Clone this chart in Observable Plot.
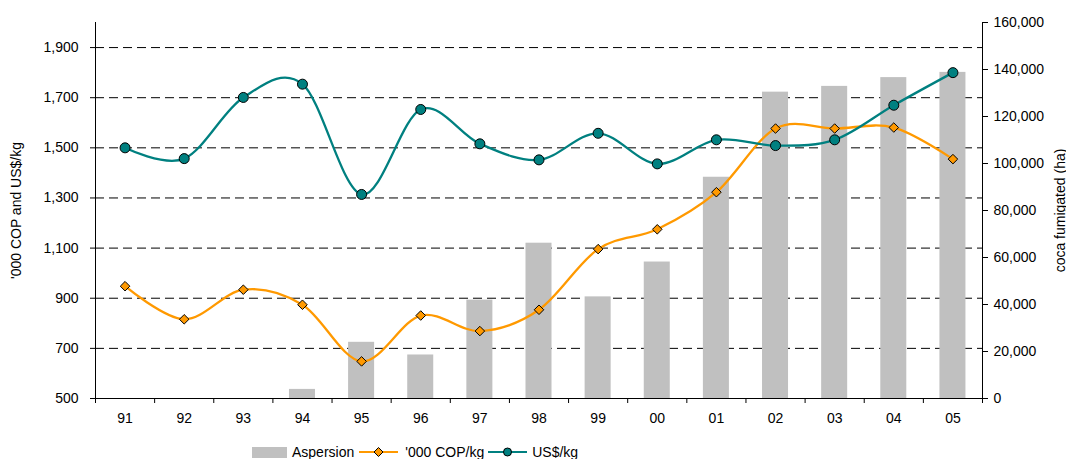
<!DOCTYPE html>
<html><head><meta charset="utf-8">
<script src="https://cdn.jsdelivr.net/npm/d3@7"></script>
<script src="https://cdn.jsdelivr.net/npm/@observablehq/plot@0.6"></script>
<style>
body{margin:0;background:#fff;font-family:"Liberation Sans",Arial,sans-serif;}
#wrap{position:relative;width:1066px;height:459px;overflow:hidden;}
#legend{position:absolute;left:252px;top:443px;height:18px;display:flex;align-items:center;font-size:14px;color:#000;white-space:nowrap;}
</style></head><body><div id="wrap"></div>
<script>
const years = ["91","92","93","94","95","96","97","98","99","00","01","02","03","04","05"];
const aspersion = [null,null,null,3871,23915,18519,41861,66083,43246,58074,94153,130364,132817,136552,138775];
const copPerKg = [948,816,934,874,648,831,769,854,1096,1175,1323,1577,1577,1581,1455];
const usdPerKg = [1500,1457,1701,1754,1314,1653,1516,1452,1558,1436,1532,1509,1532,1670,1800];
const leftTicks = [500,700,900,1100,1300,1500,1700,1900];
const rightTicks = [0,20000,40000,60000,80000,100000,120000,140000,160000];
const seriesNames = ["Aspersion","'000 COP/kg","US$/kg"];
const leftLabel = "'000 COP and US$/kg";
const rightLabel = "coca fumigated (ha)";

const leftDomain = [500, 2000];
const rightMax = 160000;
const toLeft = v => leftDomain[0] + v / rightMax * (leftDomain[1] - leftDomain[0]);
const fromLeft = y => (y - leftDomain[0]) / (leftDomain[1] - leftDomain[0]) * rightMax;

const rows = years.map((year, i) => ({year, asp: aspersion[i], cop: copPerKg[i], usd: usdPerKg[i]}));
const W = 1066, H = 434, mL = 95, mR = 84, mT = 22, mB = 36;
const step = (W - mL - mR) / years.length;
const fmt = d3.format(",");
const COLORS = {bar: "#c0c0c0", cop: "#ff9900", usd: "#008080"};

const chart = Plot.plot({
  width: W, height: H,
  marginLeft: mL, marginRight: mR, marginTop: mT, marginBottom: mB,
  style: {fontFamily: '"Liberation Sans", Arial, sans-serif', fontSize: "14px", color: "#000", background: "#fff"},
  x: {type: "band", domain: years, paddingInner: 0.56, paddingOuter: 0.28, align: 0.5, round: false},
  y: {domain: leftDomain},
  marks: [
    Plot.gridY(leftTicks.filter(d => d > leftDomain[0]), {stroke: "#000", strokeOpacity: 1, strokeDasharray: "9,5"}),
    Plot.barY(rows.filter(d => d.asp != null), {x: "year", y1: leftDomain[0], y2: d => toLeft(d.asp), fill: COLORS.bar}),
    Plot.frame({anchor: "left"}),
    Plot.frame({anchor: "right"}),
    Plot.frame({anchor: "bottom"}),
    Plot.axisY(leftTicks, {anchor: "left", tickSize: 5, tickPadding: 12, tickFormat: fmt,
      label: leftLabel, labelAnchor: "center", labelArrow: "none", labelOffset: 84}),
    Plot.axisY(rightTicks.map(toLeft), {anchor: "right", tickSize: 5, tickPadding: 6,
      tickFormat: d => fmt(Math.round(fromLeft(d))),
      label: rightLabel, labelAnchor: "center", labelArrow: "none", labelOffset: 82}),
    Plot.axisX(years, {tickSize: 5, tickFormat: () => "", dx: -step / 2, label: null}),
    Plot.axisX([years[years.length - 1]], {tickSize: 5, tickFormat: () => "", dx: step / 2, label: null}),
    Plot.axisX(years, {tickSize: 0, tickPadding: 15, label: null}),
    Plot.line(rows, {x: "year", y: "cop", curve: "cardinal", tension: 0, stroke: COLORS.cop, strokeWidth: 2.3}),
    Plot.line(rows, {x: "year", y: "usd", curve: "cardinal", tension: 0, stroke: COLORS.usd, strokeWidth: 2.3}),
    Plot.dot(rows, {x: "year", y: "cop", symbol: "diamond2", r: 4.3, fill: COLORS.cop, stroke: "#000", strokeWidth: 1}),
    Plot.dot(rows, {x: "year", y: "usd", symbol: "circle", r: 5, fill: COLORS.usd, stroke: "#000", strokeWidth: 1})
  ]
});
const wrap = document.getElementById("wrap");
wrap.appendChild(chart);

const legend = document.createElement("div");
legend.id = "legend";
legend.innerHTML = `
  <span style="display:inline-block;width:35px;height:11px;background:${COLORS.bar}"></span>
  <span style="margin-left:5px">${seriesNames[0]}</span>
  <svg width="39" height="12" style="margin-left:5px;overflow:visible"><line x1="0" x2="39" y1="6" y2="6" stroke="${COLORS.cop}" stroke-width="2"/><path d="M19.5,1.5L24,6L19.5,10.5L15,6Z" fill="${COLORS.cop}" stroke="#000" stroke-width="1"/></svg>
  <span style="margin-left:7px">${seriesNames[1]}</span>
  <svg width="39" height="12" style="margin-left:4px;overflow:visible"><line x1="0" x2="39" y1="6" y2="6" stroke="${COLORS.usd}" stroke-width="2"/><circle cx="19.5" cy="6" r="4" fill="${COLORS.usd}" stroke="#000" stroke-width="1"/></svg>
  <span style="margin-left:5px">${seriesNames[2]}</span>`;
wrap.appendChild(legend);
</script>
</body></html>
